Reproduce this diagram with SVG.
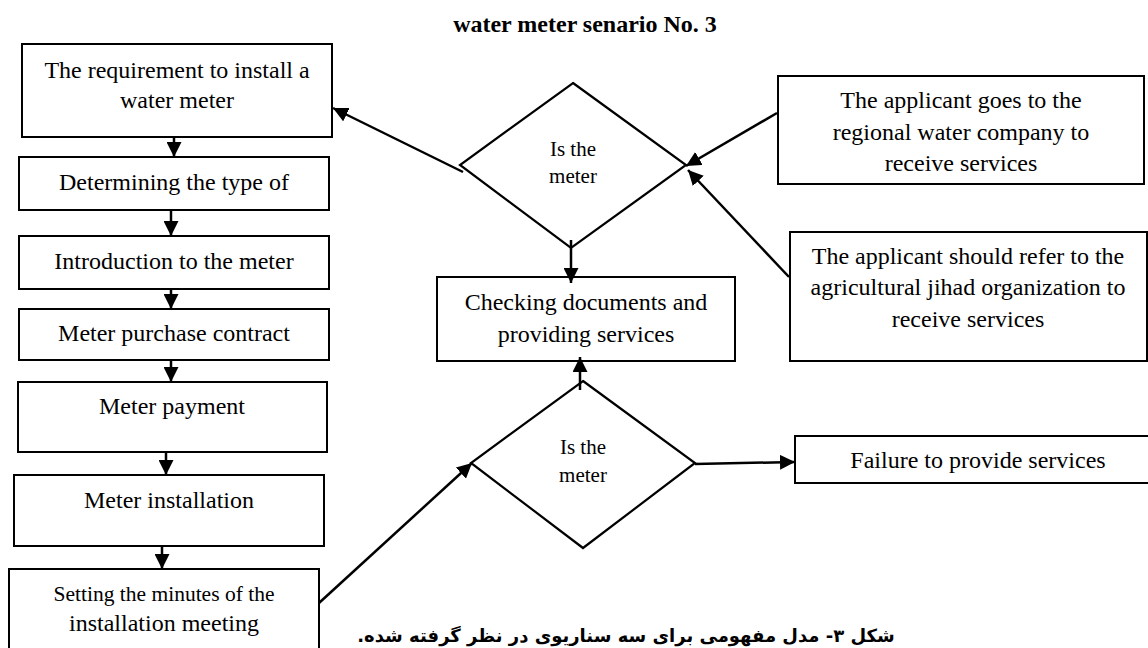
<svg xmlns="http://www.w3.org/2000/svg" width="1148" height="648" viewBox="0 0 1148 648">
<style>
  .box { fill: #fff; stroke: #000; stroke-width: 2; }
  .dia { fill: #fff; stroke: #000; stroke-width: 2.2; stroke-linejoin: miter; }
  .t { font-family: "Liberation Serif", "Times New Roman", serif; font-size: 24px; fill: #000; text-anchor: middle; }
  .d { font-family: "Liberation Serif", "Times New Roman", serif; font-size: 21px; fill: #000; text-anchor: middle; }
  .title { font-family: "Liberation Serif", "Times New Roman", serif; font-size: 24px; font-weight: bold; fill: #000; text-anchor: middle; }
  .cap { font-family: "DejaVu Sans", "Noto Sans", sans-serif; font-size: 18px; font-weight: bold; fill: #000; text-anchor: middle; direction: rtl; }
  .conn line { stroke: #000; stroke-width: 2.5; marker-end: url(#ah); }
</style>
<defs>
  <marker id="ah" markerUnits="userSpaceOnUse" markerWidth="15" markerHeight="15" refX="14" refY="7" orient="auto" viewBox="0 0 14 14">
    <path d="M0,0 L14,7 L0,14 z" fill="#000"/>
  </marker>
</defs>
<rect width="1148" height="648" fill="#fff"/>

<text class="title" x="585" y="32">water meter senario No. 3</text>

<g id="n-require">
  <rect class="box" x="22" y="44" width="310" height="93"/>
  <text class="t" x="177" y="78">The requirement to install a</text>
  <text class="t" x="177" y="108">water meter</text>
</g>
<g id="n-type">
  <rect class="box" x="19" y="157" width="310" height="53"/>
  <text class="t" x="174" y="190">Determining the type of</text>
</g>
<g id="n-intro">
  <rect class="box" x="19" y="236" width="310" height="53"/>
  <text class="t" x="174" y="269">Introduction to the meter</text>
</g>
<g id="n-contract">
  <rect class="box" x="19" y="309" width="310" height="51"/>
  <text class="t" x="174" y="341">Meter purchase contract</text>
</g>
<g id="n-payment">
  <rect class="box" x="18" y="382" width="309" height="70"/>
  <text class="t" x="172" y="414">Meter payment</text>
</g>
<g id="n-install">
  <rect class="box" x="14" y="475" width="310" height="71"/>
  <text class="t" x="169" y="508">Meter installation</text>
</g>
<g id="n-minutes">
  <rect class="box" x="9" y="569" width="310" height="100"/>
  <text class="t" x="164" y="601" style="font-size:21.5px">Setting the minutes of the</text>
  <text class="t" x="164" y="631">installation meeting</text>
</g>

<g id="n-dec1">
  <polygon class="dia" points="573,83 686,165 571,248 460,165"/>
  <text class="d" x="573" y="156">Is the</text>
  <text class="d" x="573" y="183">meter</text>
</g>
<g id="n-check">
  <rect class="box" x="437" y="277" width="298" height="84"/>
  <text class="t" x="586" y="310">Checking documents and</text>
  <text class="t" x="586" y="342">providing services</text>
</g>
<g id="n-dec2">
  <polygon class="dia" points="583,381 695,463 583,548 471,463"/>
  <text class="d" x="583" y="454">Is the</text>
  <text class="d" x="583" y="482">meter</text>
</g>

<g id="n-regional">
  <rect class="box" x="778" y="76" width="366" height="108"/>
  <text class="t" x="961" y="108">The applicant goes to the</text>
  <text class="t" x="961" y="140">regional water company to</text>
  <text class="t" x="961" y="171">receive services</text>
</g>
<g id="n-jihad">
  <rect class="box" x="790" y="232" width="357" height="129"/>
  <text class="t" x="968" y="264">The applicant should refer to the</text>
  <text class="t" x="968" y="295">agricultural jihad organization to</text>
  <text class="t" x="968" y="327">receive services</text>
</g>
<g id="n-failure">
  <rect class="box" x="795" y="436" width="360" height="47"/>
  <text class="t" x="978" y="468">Failure to provide services</text>
</g>

<g id="connectors" class="conn">
  <line x1="174" y1="137" x2="174" y2="157"/>
  <line x1="171" y1="210" x2="171" y2="236"/>
  <line x1="171" y1="289" x2="171" y2="309"/>
  <line x1="171" y1="360" x2="171" y2="382"/>
  <line x1="166" y1="452" x2="166" y2="475"/>
  <line x1="162" y1="546" x2="162" y2="569"/>
  <line x1="319" y1="603" x2="472" y2="463"/>
  <line x1="580" y1="390" x2="580" y2="357"/>
  <line x1="695" y1="464" x2="795" y2="462"/>
  <line x1="571" y1="240" x2="571" y2="283"/>
  <line x1="463" y1="172" x2="333" y2="108"/>
  <line x1="777" y1="113" x2="686" y2="166"/>
  <line x1="789" y1="277" x2="688" y2="170"/>
</g>

<text class="cap" x="626" y="642">شکل ۳- مدل مفهومی برای سه سناریوی در نظر گرفته شده.</text>
</svg>
